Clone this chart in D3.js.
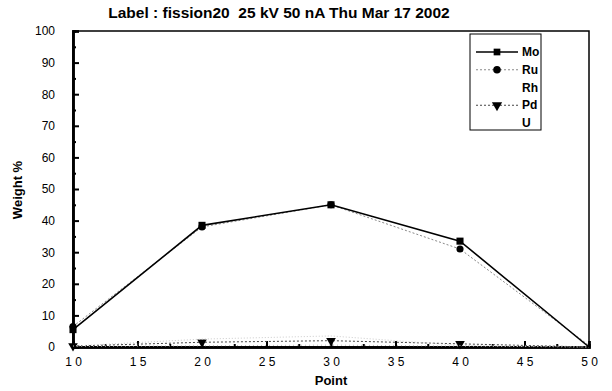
<!DOCTYPE html>
<head>
  <meta charset="utf-8">
  <script src="https://d3js.org/d3.v7.min.js"></script>
  <style>
    body { margin:0; background:#fff; }
    text { font-family: "Liberation Sans", Arial, sans-serif; fill:#000; }
  </style>
</head>
<body>
<script>
  // data
  var points = [10, 20, 30, 40, 50];
  var mo = [5.5, 38.5, 45, 33.5, 0];
  var ru = [6.5, 38, 45, 31, 0.5];
  var rh = [0.3, 2.5, 3.5, 0.5, 0];
  var pd = [0.3, 1.5, 2, 1, 0];
  var u  = [0.2, 0.4, 0.6, 0.3, 0];
  var xTicks = [10, 15, 20, 25, 30, 35, 40, 45, 50];
  var yTicks = [0, 10, 20, 30, 40, 50, 60, 70, 80, 90, 100];
  var names = ["Mo", "Ru", "Rh", "Pd", "U"];

  var width = 612, height = 391;
  var svg = d3.select("body").append("svg")
    .attr("width", width).attr("height", height);

  var x = d3.scaleLinear().domain([10, 50]).range([73, 589]);
  var y = d3.scaleLinear().domain([0, 100]).range([347, 31]);

  // title
  svg.append("text").attr("x", 279).attr("y", 18)
    .attr("text-anchor", "middle").style("font-size", "15.5px").style("font-weight", "bold")
    .style("white-space", "pre")
    .text("Label : fission20  25 kV 50 nA Thu Mar 17 2002");

  // frame
  svg.append("rect").attr("x", 73).attr("y", 31).attr("width", 516).attr("height", 316)
    .attr("fill", "none").attr("stroke", "#000").attr("stroke-width", 1.5);

  // y axis, ticks inward
  var yAxis = d3.axisLeft(y).tickValues(yTicks).tickSize(-6).tickPadding(18)
    .tickFormat(d3.format("d"));
  var gy = svg.append("g").attr("transform", "translate(73,0)").call(yAxis);
  var yMinor = d3.axisLeft(y).tickValues(d3.range(5, 100, 10)).tickSize(-3).tickFormat("");
  svg.append("g").attr("transform", "translate(73,0)").call(yMinor);

  // x axis, ticks inward
  var xAxis = d3.axisBottom(x).tickValues(xTicks).tickSize(-6).tickPadding(10)
    .tickFormat(function(d) { return String(d).split("").join(" "); });
  var gx = svg.append("g").attr("transform", "translate(0,347)").call(xAxis);
  var xMinor = d3.axisBottom(x).tickValues(d3.range(12.5, 50, 5)).tickSize(-3).tickFormat("");
  svg.append("g").attr("transform", "translate(0,347)").call(xMinor);

  svg.selectAll(".domain").attr("stroke", "#000").attr("stroke-width", 2.5);
  svg.selectAll(".tick line").attr("stroke", "#000").attr("stroke-width", 2);
  gy.selectAll(".tick text").style("font-size", "12px").attr("text-anchor", "end").attr("dx", 0);
  gx.selectAll(".tick text").style("font-size", "12px");

  // axis titles
  svg.append("text").attr("transform", "translate(22,190) rotate(-90)")
    .attr("text-anchor", "middle").style("font-size", "13px").style("font-weight", "bold")
    .text("Weight %");
  svg.append("text").attr("x", 331).attr("y", 385)
    .attr("text-anchor", "middle").style("font-size", "13px").style("font-weight", "bold")
    .text("Point");

  var series = [
    { name: "Mo", vals: mo, color: "#000", width: 1.6, dash: null, marker: "square" },
    { name: "Ru", vals: ru, color: "#888", width: 1, dash: "2,2", marker: "circle" },
    { name: "Rh", vals: rh, color: "#ccc", width: 1, dash: "1,2", marker: null },
    { name: "Pd", vals: pd, color: "#444", width: 1, dash: "2,2", marker: "triangle" },
    { name: "U",  vals: u,  color: "#bbb", width: 1, dash: "1,3", marker: null }
  ];

  var line = d3.line().x(function(d) { return x(d[0]); }).y(function(d) { return y(d[1]); });
  var symbols = { square: d3.symbolSquare, circle: d3.symbolCircle, triangle: d3.symbolTriangle };

  series.slice().reverse().forEach(function(s) {
    var pts = points.map(function(p, i) { return [p, s.vals[i]]; });
    svg.append("path").datum(pts).attr("d", line)
      .attr("fill", "none").attr("stroke", s.color)
      .attr("stroke-width", s.width).attr("stroke-dasharray", s.dash);
    if (s.marker) {
      svg.selectAll(null).data(pts.slice(0, 4)).enter().append("path")
        .attr("d", d3.symbol().type(symbols[s.marker]).size(s.marker == "square" ? 50 : 40))
        .attr("transform", function(d) {
          return "translate(" + x(d[0]) + "," + y(d[1]) + ")" + (s.marker == "triangle" ? " rotate(180)" : "");
        })
        .attr("fill", "#000");
    }
  });

  // legend, text clipped at the box edge like the original
  svg.append("clipPath").attr("id", "lgclip")
    .append("rect").attr("x", 470).attr("y", 34).attr("width", 71).attr("height", 96);
  var lg = svg.append("g");
  lg.append("rect").attr("x", 470).attr("y", 34).attr("width", 71).attr("height", 96)
    .attr("fill", "#fff").attr("stroke", "#000").attr("stroke-width", 1);
  var lgItems = lg.append("g").attr("clip-path", "url(#lgclip)");
  var lgY = d3.scalePoint().domain(names).range([52, 123]);
  series.forEach(function(s) {
    var yy = lgY(s.name);
    if (s.marker) {
      lgItems.append("line").attr("x1", 476).attr("x2", 518).attr("y1", yy).attr("y2", yy)
        .attr("stroke", s.color).attr("stroke-width", s.width).attr("stroke-dasharray", s.dash);
      lgItems.append("path")
        .attr("d", d3.symbol().type(symbols[s.marker]).size(45))
        .attr("transform", "translate(497," + yy + ")" + (s.marker == "triangle" ? " rotate(180)" : ""))
        .attr("fill", "#000");
    }
    lgItems.append("text").attr("x", 522).attr("y", yy + 4)
      .style("font-size", "12px").style("font-weight", "bold").text(s.name);
  });
</script>
</body>
